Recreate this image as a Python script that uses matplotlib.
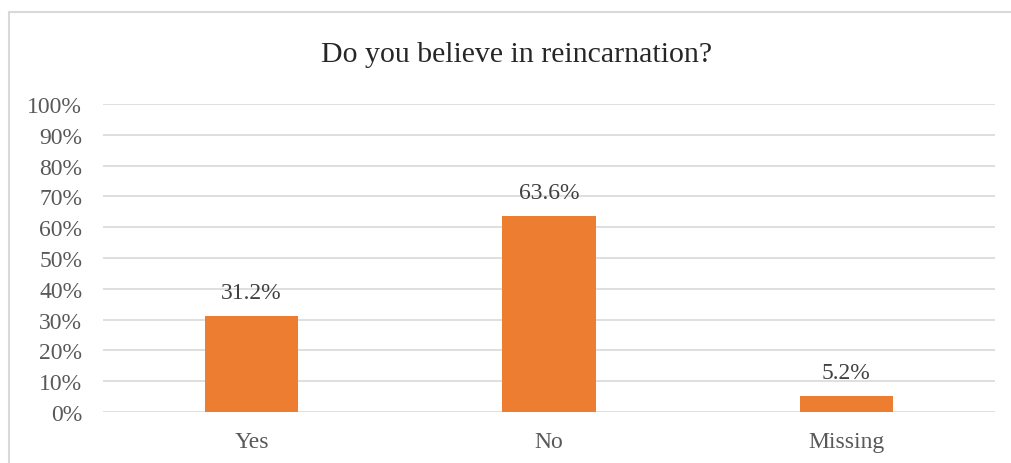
import matplotlib.pyplot as plt
from matplotlib.patches import Rectangle
from matplotlib.ticker import PercentFormatter

categories = ['Yes', 'No', 'Missing']
values = [31.2, 63.6, 5.2]
labels = ['31.2%', '63.6%', '5.2%']

plt.rcParams['font.family'] = 'Liberation Serif'
text_col = '#595959'

fig = plt.figure(figsize=(10.11, 4.64), dpi=100)
ax = fig.add_axes([103/1011, 51/464, 892/1011, 308/464])

# chart frame (left + top edges visible in the crop)
fig.patches.append(Rectangle((9/1011, -0.1), 1.2, (464-13)/464 + 0.1,
                             transform=fig.transFigure, fill=False,
                             edgecolor='#d9d9d9', lw=1.5))

x = range(len(categories))
bars = ax.bar(x, values, width=0.315, color='#ed7d31', zorder=3)
for xi, v, lab in zip(x, values, labels):
    ax.text(xi, v + 4.2, lab, ha='center', va='bottom', fontsize=17, color='#404040')

ax.set_xlim(-0.5, 2.5)
ax.set_ylim(0, 100)
ax.set_yticks(range(0, 101, 10))
ax.yaxis.set_major_formatter(PercentFormatter(decimals=0))
ax.set_xticks(list(x))
ax.set_xticklabels(categories)
ax.grid(axis='y', color='#d9d9d9', lw=1.2, zorder=0)
for s in ax.spines.values():
    s.set_visible(False)
ax.tick_params(length=0, labelsize=17, colors=text_col)
ax.tick_params(axis='y', pad=15)
ax.tick_params(axis='x', pad=14)

fig.text(517/1011, 1 - 55/464, 'Do you believe in reincarnation?', ha='center', va='center',
         fontsize=21.5, color='#262626')

fig.savefig('out.png', dpi=100)
